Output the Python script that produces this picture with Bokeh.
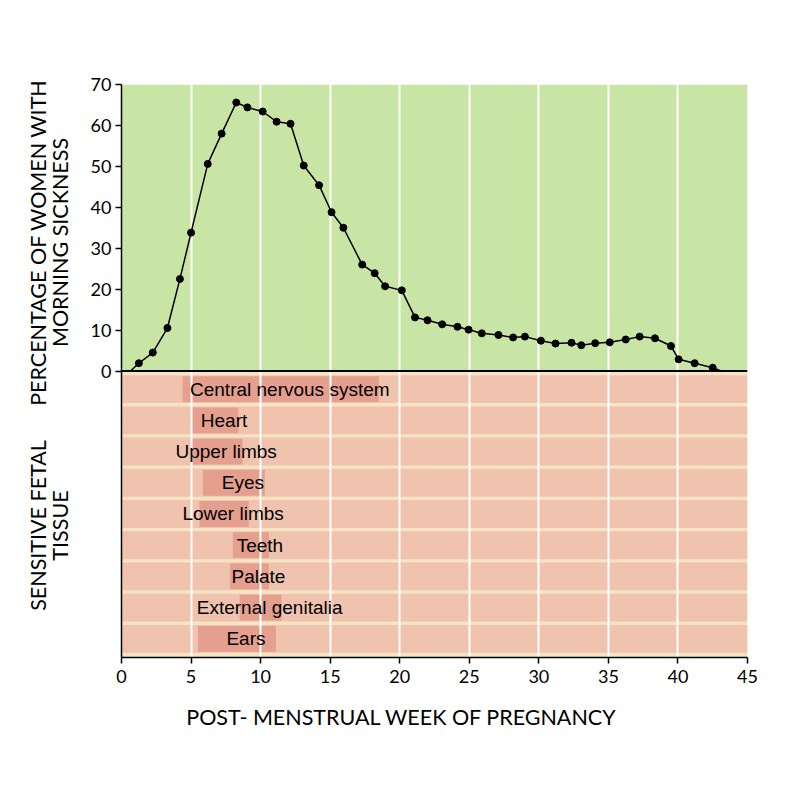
import math
from bokeh.plotting import figure
from bokeh.layouts import row, column
from bokeh.models import Range1d, FixedTicker, Span, ColumnDataSource
from bokeh.core.properties import value
from bokeh.embed import file_html
from bokeh.resources import INLINE

# ---------------- data ----------------
weeks = [0.65, 1.25, 2.25, 3.3, 4.2, 5.0, 6.2, 7.2, 8.25, 9.05, 10.15, 11.15, 12.15,
         13.1, 14.2, 15.1, 15.95, 17.3, 18.2, 18.95, 20.15, 21.1, 22.0, 23.05, 24.15,
         24.95, 25.9, 27.1, 28.15, 29.0, 30.15, 31.2, 32.35, 33.05, 34.05, 35.1, 36.25,
         37.25, 38.35, 39.5, 40.05, 41.2, 42.5, 43.1]
pct_sick = [0, 1.9, 4.5, 10.5, 22.5, 33.8, 50.6, 58.0, 65.6, 64.4, 63.4, 60.9, 60.4,
            50.2, 45.4, 38.8, 35.0, 26.0, 23.9, 20.7, 19.7, 13.1, 12.4, 11.4, 10.8,
            10.1, 9.2, 8.8, 8.2, 8.4, 7.4, 6.7, 6.9, 6.3, 6.8, 7.0, 7.7, 8.4, 8.0,
            6.1, 2.85, 1.9, 0.8, 0]

tissues = ["Central nervous system", "Heart", "Upper limbs", "Eyes", "Lower limbs",
           "Teeth", "Palate", "External genitalia", "Ears"]
sens_start = [4.4, 5.05, 5.05, 5.85, 5.6, 8.0, 7.8, 8.5, 5.5]
sens_end = [18.5, 8.4, 8.7, 10.3, 9.15, 10.6, 10.6, 11.5, 11.1]

x_ticks = [0, 5, 10, 15, 20, 25, 30, 35, 40, 45]
y_ticks = [0, 10, 20, 30, 40, 50, 60, 70]

x_title = "POST- MENSTRUAL WEEK OF PREGNANCY"
y_title_top = ["PERCENTAGE OF WOMEN WITH", "MORNING SICKNESS"]
y_title_bottom = ["SENSITIVE FETAL", "TISSUE"]

# ---------------- layout constants ----------------
X_MAX = 45
Y_MAX = 70
Y_MIN = -70
ROW_TOP = -0.6
ROW_PITCH = 7.63
BAND_H = 6.8
BAR_H = 6.3

LEFT_W = 76      # width of the left title strip
MAIN_W = 724
MAIN_H = 700
BOTTOM_H = 100

GREEN = "#c9e5a5"
CREAM = "#f5e3c3"
PINK = "#efc3ae"
BAR = "#e59f8f"
TITLE_FONT = value("Lato")
TITLE_SIZE = "21.5px"


def blank_fig(w, h):
    f = figure(width=w, height=h, output_backend="svg", toolbar_location=None,
               x_range=Range1d(0, w), y_range=Range1d(0, h),
               x_axis_type=None, y_axis_type=None, min_border=0)
    f.outline_line_color = None
    f.grid.visible = False
    f.background_fill_color = "white"
    f.border_fill_color = "white"
    return f


# ---------------- main chart ----------------
p = figure(width=MAIN_W, height=MAIN_H, output_backend="svg", toolbar_location=None,
           x_range=Range1d(0, X_MAX), y_range=Range1d(Y_MIN, Y_MAX),
           min_border_left=45, min_border_right=53, min_border_top=84,
           min_border_bottom=43)
p.outline_line_color = None
p.background_fill_color = "white"
p.border_fill_color = "white"

p.quad(left=[0], right=[X_MAX], bottom=[0], top=[Y_MAX], fill_color=GREEN,
       line_color=None, level="image")
p.quad(left=[0], right=[X_MAX], bottom=[Y_MIN], top=[0], fill_color=CREAM,
       line_color=None, level="image")

n = len(tissues)
row_y = [ROW_TOP - (i + 0.5) * ROW_PITCH for i in range(n)]
p.quad(left=[0] * n, right=[X_MAX] * n,
       bottom=[y - BAND_H / 2 for y in row_y], top=[y + BAND_H / 2 for y in row_y],
       fill_color=PINK, line_color=None, level="image")

bar_src = ColumnDataSource(dict(
    left=sens_start, right=sens_end,
    bottom=[y - BAR_H / 2 for y in row_y], top=[y + BAR_H / 2 for y in row_y],
    cx=[(a + b) / 2 for a, b in zip(sens_start, sens_end)], cy=row_y, name=tissues))
p.quad(left="left", right="right", bottom="bottom", top="top", source=bar_src,
       fill_color=BAR, line_color=None, level="image")

p.ygrid.visible = False
p.xgrid.ticker = FixedTicker(ticks=[5, 10, 15, 20, 25, 30, 35, 40])
p.xgrid.grid_line_color = "white"
p.xgrid.grid_line_width = 2
p.xgrid.level = "underlay"

p.add_layout(Span(location=0, dimension="width", line_color="black", line_width=2))

p.line(weeks, pct_sick, line_color="black", line_width=1.5)
p.scatter(weeks[1:-1], pct_sick[1:-1], size=7, fill_color="black", line_color="black")

p.text(x="cx", y="cy", text="name", source=bar_src, text_align="center",
       text_baseline="middle", x_offset=9, text_font=value("Liberation Sans"),
       text_font_size="19px", text_color="black")

for ax in (p.xaxis[0], p.yaxis[0]):
    ax.axis_line_color = "black"
    ax.axis_line_width = 1.5
    ax.major_tick_line_color = "black"
    ax.major_tick_line_width = 1.5
    ax.major_tick_in = 0
    ax.major_tick_out = 6
    ax.minor_tick_line_color = None
    ax.major_label_text_font = "Lato"
    ax.major_label_text_font_size = "18px"
    ax.major_label_text_color = "black"
p.xaxis.ticker = FixedTicker(ticks=x_ticks)
p.yaxis.ticker = FixedTicker(ticks=y_ticks)
p.xaxis.major_label_standoff = 6
p.yaxis.major_label_standoff = 4

# ---------------- left title strip (y titles) ----------------
H = MAIN_H + BOTTOM_H
left = blank_fig(LEFT_W, H)
left.text(x=[37, 59], y=[H - 242, H - 242], text=y_title_top, angle=math.pi / 2,
          text_align="center", text_baseline="middle", text_font=TITLE_FONT,
          text_font_size=TITLE_SIZE, text_color="black")
left.text(x=[37, 59], y=[H - 525, H - 525], text=y_title_bottom, angle=math.pi / 2,
          text_align="center", text_baseline="middle", text_font=TITLE_FONT,
          text_font_size=TITLE_SIZE, text_color="black")

# ---------------- bottom title strip (x title) ----------------
bottom = blank_fig(MAIN_W, BOTTOM_H)
bottom.text(x=[400 - LEFT_W], y=[BOTTOM_H - 16], text=[x_title], text_align="center",
            text_baseline="middle", text_font=TITLE_FONT, text_font_size=TITLE_SIZE,
            text_color="black")

layout = row(left, column(p, bottom, spacing=0), spacing=0)
open("out.html", "w").write(file_html(layout, INLINE))
